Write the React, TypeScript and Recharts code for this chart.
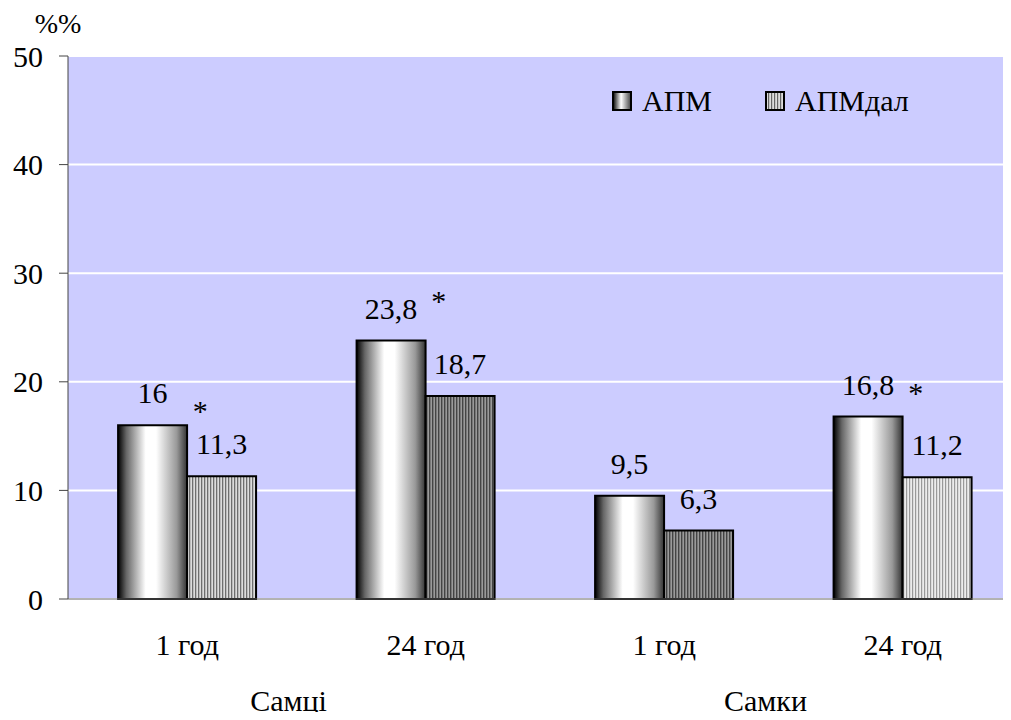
import { Bar, CartesianGrid, Cell, ComposedChart, LabelList, Scatter, XAxis, YAxis } from 'recharts';

const FONT = '"Liberation Serif", "Times New Roman", serif';

const ages = ['1 год', '24 год', '1 год', '24 год'];
const sexes = ['Самці', 'Самці', 'Самки', 'Самки'];
const apm = [16, 23.8, 9.5, 16.8];
const apmDal = [11.3, 18.7, 6.3, 11.2];
// level (in %) where the significance asterisk sits
const starLevel: (number | null)[] = [17.8, 27.9, null, 19.4];
const yTicks = [0, 10, 20, 30, 40, 50];
const edgeTicks = [0, 1, 2, 3, 4];
const seriesNames = ['АПМ', 'АПМдал'];

const data = ages.map((age, i) => ({
  age,
  sex: sexes[i],
  apm: apm[i],
  apmDal: apmDal[i],
  star: starLevel[i],
}));

const dalFills = ['url(#stripeMid)', 'url(#stripeDark)', 'url(#stripeDark)', 'url(#stripeLight)'];

const fmt = (v: unknown) => String(v).replace('.', ',');

const txt = { fontSize: 30, fill: '#000', fontFamily: FONT };

const StarMark = (props: any) => {
  const { cx, cy, payload } = props;
  if (payload == null || payload.star == null || !Number.isFinite(cy)) return <g />;
  return (
    <text x={cx + 13} y={cy + 15} textAnchor="middle" fontFamily={FONT} fontSize={30} fill="#000">
      *
    </text>
  );
};

function Swatch({ kind }: { kind: 'apm' | 'dal' }) {
  return (
    <svg width={20} height={20} style={{ display: 'block' }}>
      <defs>
        <linearGradient id={`lg-${kind}`} x1="0" y1="0" x2="1" y2="0">
          <stop offset="0%" stopColor="#000" />
          <stop offset="45%" stopColor="#fff" />
          <stop offset="100%" stopColor="#444" />
        </linearGradient>
        <pattern id={`lp-${kind}`} width={3} height={4} patternUnits="userSpaceOnUse">
          <rect width={3} height={4} fill="#ddd" />
          <rect width={1.2} height={4} fill="#666" />
        </pattern>
      </defs>
      <rect x={1} y={1} width={18} height={18} fill={kind === 'apm' ? `url(#lg-${kind})` : `url(#lp-${kind})`} stroke="#000" strokeWidth={2} />
    </svg>
  );
}

const legendRow = { position: 'absolute' as const, top: 86, display: 'flex', alignItems: 'center', fontSize: 30, lineHeight: '30px', fontFamily: FONT };

export default function App() {
  return (
    <div style={{ position: 'relative', margin: -8, width: 1011, height: 720, overflow: 'hidden', background: '#fff' }}>
      <ComposedChart
        width={1030}
        height={720}
        data={data}
        margin={{ top: 56, right: 8, bottom: 0, left: 0 }}
        barCategoryGap="21%"
        barGap={0}
        style={{ display: 'block' }}
      >
        <defs>
          <linearGradient id="cylinder" x1="0" y1="0" x2="1" y2="0">
            <stop offset="0%" stopColor="#000" />
            <stop offset="12%" stopColor="#666" />
            <stop offset="40%" stopColor="#fff" />
            <stop offset="55%" stopColor="#fff" />
            <stop offset="85%" stopColor="#999" />
            <stop offset="100%" stopColor="#333" />
          </linearGradient>
          <pattern id="stripeMid" width={3} height={4} patternUnits="userSpaceOnUse">
            <rect width={3} height={4} fill="#dcdcdc" />
            <rect width={1.3} height={4} fill="#6e6e6e" />
          </pattern>
          <pattern id="stripeDark" width={3} height={4} patternUnits="userSpaceOnUse">
            <rect width={3} height={4} fill="#9a9a9a" />
            <rect width={1.4} height={4} fill="#444" />
          </pattern>
          <pattern id="stripeLight" width={3} height={4} patternUnits="userSpaceOnUse">
            <rect width={3} height={4} fill="#ececec" />
            <rect width={1.2} height={4} fill="#999" />
          </pattern>
        </defs>
        <CartesianGrid vertical={false} stroke="#fff" strokeWidth={2} fill="#ccccff" />
        <XAxis
          xAxisId="edges"
          type="number"
          domain={[0, 4]}
          ticks={edgeTicks}
          tick={() => <g />}
          axisLine={false}
          tickLine={{ stroke: '#555' }}
          tickSize={9}
          height={0}
        />
        <XAxis
          dataKey="age"
          tick={txt}
          tickLine={false}
          tickSize={0}
          tickMargin={35}
          axisLine={{ stroke: '#666' }}
          height={60}
        />
        <XAxis
          xAxisId="group"
          dataKey="sex"
          allowDuplicatedCategory={false}
          tick={{ ...txt, dx: -18 } as any}
          tickLine={false}
          tickSize={0}
          tickMargin={31}
          axisLine={false}
          height={61}
        />
        <YAxis
          domain={[0, 50]}
          ticks={yTicks}
          width={68}
          tick={txt}
          tickSize={9}
          tickMargin={16}
          axisLine={{ stroke: '#444' }}
          tickLine={{ stroke: '#444' }}
          label={{ value: '%%', position: 'top', offset: 23, dx: 24, fontSize: 28, fill: '#000', fontFamily: FONT }}
        />
        <Bar dataKey="apm" name={seriesNames[0]} fill="url(#cylinder)" stroke="#000" strokeWidth={2} isAnimationActive={false}>
          <LabelList dataKey="apm" position="top" offset={22} formatter={fmt} fontSize={30} fill="#000" fontFamily={FONT} />
        </Bar>
        <Bar dataKey="apmDal" name={seriesNames[1]} stroke="#000" strokeWidth={2} isAnimationActive={false}>
          {data.map((_, i) => (
            <Cell key={i} fill={dalFills[i]} />
          ))}
          <LabelList dataKey="apmDal" position="top" offset={22} formatter={fmt} fontSize={30} fill="#000" fontFamily={FONT} />
        </Bar>
        <Scatter dataKey="star" shape={StarMark} isAnimationActive={false} legendType="none" />
      </ComposedChart>
      <div style={{ ...legendRow, left: 612 }}>
        <Swatch kind="apm" />
        <span style={{ marginLeft: 10 }}>{seriesNames[0]}</span>
      </div>
      <div style={{ ...legendRow, left: 765 }}>
        <Swatch kind="dal" />
        <span style={{ marginLeft: 10 }}>{seriesNames[1]}</span>
      </div>
    </div>
  );
}
